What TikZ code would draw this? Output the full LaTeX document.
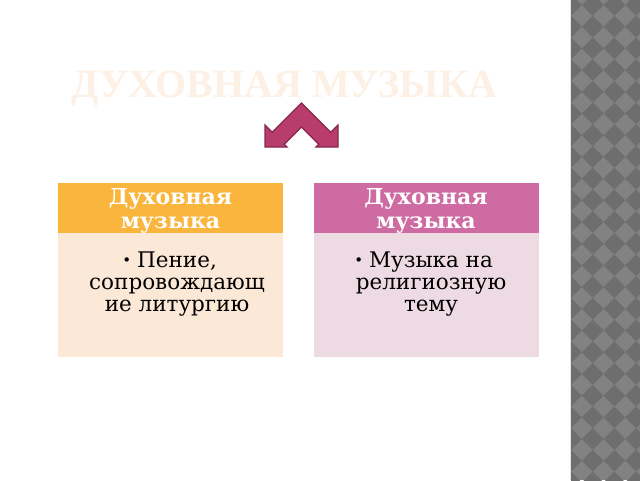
\documentclass[tikz,border=0pt]{standalone}
\usepackage{fontspec}
\setmainfont{DejaVu Serif}
\newfontfamily\titlefont{Liberation Serif}
\definecolor{hdrOrange}{RGB}{249,181,60}
\definecolor{bodyOrange}{RGB}{252,232,214}
\definecolor{hdrPink}{RGB}{206,107,162}
\definecolor{bodyPink}{RGB}{238,218,227}
\definecolor{titleCol}{RGB}{253,241,230}
\definecolor{arrowFill}{RGB}{184,60,108}
\definecolor{arrowLine}{RGB}{135,40,78}
\definecolor{stripLight}{RGB}{130,130,130}
\definecolor{stripDark}{RGB}{110,110,110}
\begin{document}
\begin{tikzpicture}[x=1pt,y=-1pt,
  hdrbox/.style={minimum width=225pt,minimum height=50pt,inner sep=0pt,draw=none},
  bodybox/.style={minimum width=225pt,minimum height=124pt,inner sep=0pt,draw=none},
  hdrtext/.style={anchor=base,align=center,text=white,font=\fontsize{22}{24}\selectfont\bfseries,inner sep=0pt},
  bodytext/.style={anchor=base,align=center,text=black,font=\fontsize{21.5}{22}\selectfont,inner sep=0pt}]
\useasboundingbox (0,0) rectangle (640,480);
\fill[white] (0,0) rectangle (640,480);
% patterned strip
\begin{scope}
  \clip (571,0) rectangle (640,480);
  \fill[stripLight] (571,0) rectangle (640,480);
  \foreach \k in {0,...,4}{
    \foreach \m in {0,...,23}{
      \fill[stripDark] ({571+\k*21.7},{5+\m*21.7-10.85}) -- ({571+\k*21.7+10.85},{5+\m*21.7}) -- ({571+\k*21.7},{5+\m*21.7+10.85}) -- ({571+\k*21.7-10.85},{5+\m*21.7}) -- cycle;
    }
  }
\end{scope}
\draw[white!80!gray,line width=1pt] (570.5,0) -- (570.5,480);
% title
\node[anchor=base west,inner sep=0pt,text=titleCol,font=\titlefont\fontsize{40}{40}\selectfont\bfseries] (title) at (71,97) {ДУХОВНАЯ МУЗЫКА};
% arrow
\draw[fill=arrowFill,draw=arrowLine,line width=1.3pt,line join=miter] (301.5,103) -- (272.25,132.25) -- (265,125) -- (265,147) -- (287,147) -- (284.25,144.25) -- (301.5,127) -- (318.75,144.25) -- (316,147) -- (338,147) -- (338,125) -- (330.75,132.25) -- cycle;
% left column
\node[hdrbox,fill=hdrOrange] (h1) at (170.5,208) {};
\node[bodybox,fill=bodyOrange] (b1) at (170.5,295) {};
\node[hdrtext] (h1t) at (170.5,228) {Духовная\\музыка};
\node[bodytext] (b1t) at (177,311.5) {\llap{\raisebox{2pt}{\fontsize{15}{15}\selectfont •}\hspace{6pt}}Пение,\\сопровождающ\\ие литургию};
% right column
\node[hdrbox,fill=hdrPink] (h2) at (426,208) {};
\node[bodybox,fill=bodyPink] (b2) at (426,295) {};
\node[hdrtext] (h2t) at (426,228) {Духовная\\музыка};
\node[bodytext] (b2t) at (431,311.5) {\llap{\raisebox{2pt}{\fontsize{15}{15}\selectfont •}\hspace{6pt}}Музыка на\\религиозную\\тему};
\end{tikzpicture}
\end{document}
